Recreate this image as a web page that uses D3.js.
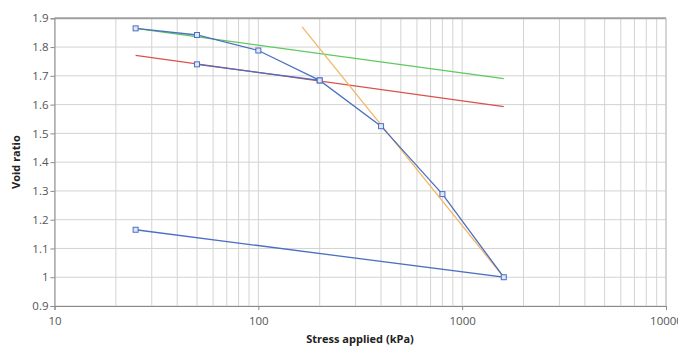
<!DOCTYPE html>
<html><head><meta charset="utf-8">
<script src="https://cdn.jsdelivr.net/npm/d3@7"></script>
<style>body{margin:0;background:#fff}svg{display:block}</style>
</head><body><svg id="c" width="678" height="347"></svg>
<script>
const stress = [25, 50, 100, 200, 50, 200, 400, 800, 1600, 25];
const voidRatio = [1.865, 1.842, 1.788, 1.684, 1.740, 1.684, 1.525, 1.289, 1.0, 1.165];
const greenX = [25, 1600], greenY = [1.865, 1.69];
const redX = [25, 1600], redY = [1.771, 1.593];
const orangeX = [164, 1600], orangeY = [1.87, 1.0];
const xTicks = [10, 100, 1000, 10000];
const yTicks = [0.9, 1, 1.1, 1.2, 1.3, 1.4, 1.5, 1.6, 1.7, 1.8, 1.9];

const svg = d3.select('#c');
const x = d3.scaleLog().domain([10, 10000]).range([54.5, 666]);
const y = d3.scaleLinear().domain([0.9, 1.9]).range([306, 18.3]);
const font = "'Open Sans', 'Noto Sans', sans-serif";

// grid
const minor = [];
for (let d = 10; d < 10000; d *= 10) for (let k = 1; k < 10; k++) minor.push(d * k);
minor.push(10000);
svg.append('g').selectAll('line').data(minor).join('line')
  .attr('x1', d => x(d)).attr('x2', d => x(d)).attr('y1', y(1.9)).attr('y2', y(0.9))
  .attr('stroke', '#d3d3d3').attr('stroke-width', 1);
svg.append('g').selectAll('line').data(yTicks).join('line')
  .attr('x1', x(10)).attr('x2', x(10000)).attr('y1', d => y(d)).attr('y2', d => y(d))
  .attr('stroke', '#d3d3d3').attr('stroke-width', 1);
// border top
svg.append('line').attr('x1', x(10)).attr('x2', x(10000)).attr('y1', y(1.9)).attr('y2', y(1.9))
  .attr('stroke', '#a0a0a0').attr('stroke-width', 2);
svg.append('line').attr('x1', x(10000)).attr('x2', x(10000)).attr('y1', y(1.9)).attr('y2', y(0.9))
  .attr('stroke', '#c0c0c0').attr('stroke-width', 1);

// axes
const yAxis = d3.axisLeft(y).tickValues(yTicks).tickFormat(d3.format('~g')).tickSize(4).tickPadding(2);
const gy = svg.append('g').attr('transform', `translate(${x(10)},0)`).call(yAxis);
const xAxis = d3.axisBottom(x).tickValues(xTicks).tickFormat(d3.format('d')).tickSize(4).tickPadding(3);
const gx = svg.append('g').attr('transform', `translate(0,${y(0.9)})`).call(xAxis);
[gx, gy].forEach(g => {
  g.selectAll('path').attr('stroke', '#8a8a8a');
  g.selectAll('line').attr('stroke', '#8a8a8a');
  g.selectAll('text').attr('fill', '#555').attr('font-family', font).attr('font-size', 11.5);
});
gx.selectAll('text').attr('dy', '1em');

// titles
svg.append('text').attr('x', 360).attr('y', 343).attr('text-anchor', 'middle')
  .attr('font-family', font).attr('font-size', 11).attr('font-weight', 'bold').attr('fill', '#222')
  .text('Stress applied (kPa)');
svg.append('text').attr('transform', `translate(20,${(y(0.9) + y(1.9)) / 2}) rotate(-90)`)
  .attr('text-anchor', 'middle').attr('font-family', font).attr('font-size', 11)
  .attr('font-weight', 'bold').attr('fill', '#222').text('Void ratio');

const line = d3.line().x(d => x(d[0])).y(d => y(d[1]));
const zip = (a, b) => a.map((v, i) => [v, b[i]]);

svg.append('path').attr('d', line(zip(greenX, greenY))).attr('fill', 'none')
  .attr('stroke', '#5ec95e').attr('stroke-width', 1.3);
svg.append('path').attr('d', line(zip(redX, redY))).attr('fill', 'none')
  .attr('stroke', '#d8524e').attr('stroke-width', 1.3);
svg.append('path').attr('d', line(zip(orangeX, orangeY))).attr('fill', 'none')
  .attr('stroke', '#f2b768').attr('stroke-width', 1.3);

const pts = zip(stress, voidRatio);
svg.append('path').attr('d', line(pts)).attr('fill', 'none')
  .attr('stroke', '#4b6fc2').attr('stroke-width', 1.3);
svg.append('g').selectAll('rect').data(pts).join('rect')
  .attr('x', d => x(d[0]) - 2.5).attr('y', d => y(d[1]) - 2.5)
  .attr('width', 5).attr('height', 5)
  .attr('fill', '#dfe6f7').attr('stroke', '#4b6fc2').attr('stroke-width', 1);
</script></body></html>
